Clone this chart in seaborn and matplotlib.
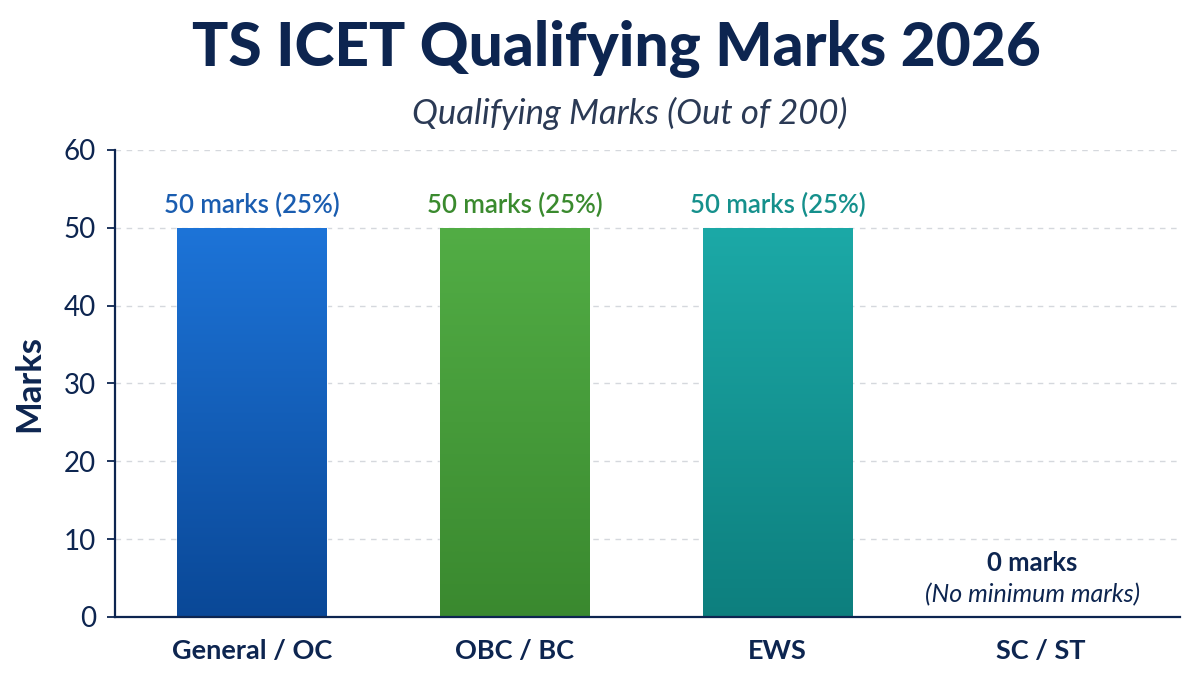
import numpy as np
import pandas as pd
import matplotlib
matplotlib.use("Agg")
import matplotlib.pyplot as plt
import seaborn as sns
from matplotlib.colors import LinearSegmentedColormap

categories = ["General / OC", "OBC / BC", "EWS", "SC / ST"]
marks = [50, 50, 50, 0]
bar_labels = ["50 marks (25%)", "50 marks (25%)", "50 marks (25%)", "0 marks"]
yticks = [0, 10, 20, 30, 40, 50, 60]

top_colors = ["#1d74d8", "#52ad45", "#1ca9a7", "#ffffff"]
bot_colors = ["#0a4897", "#3a892f", "#0d7f7e", "#ffffff"]
label_colors = ["#1a5db0", "#3a8a2e", "#15908c", "#0d2550"]
navy = "#0d2550"

sns.set_theme(style="white")
plt.rcParams['font.family'] = ['Lato', 'DejaVu Sans']

df = pd.DataFrame({"cat": categories, "marks": marks})

fig = plt.figure(figsize=(12, 6.75), dpi=100)
ax = fig.add_axes([0.096, 0.086, 0.887, 0.692])
sns.barplot(data=df, x="cat", y="marks", ax=ax, width=0.57,
            palette=top_colors, hue="cat", legend=False, saturation=1)

ax.set_ylim(0, 60)
ax.set_xlim(-0.52, 3.53)
ax.set_yticks(yticks)
ax.yaxis.grid(True, linestyle=(0, (4, 4)), color="#d5d8dd", linewidth=1)
ax.set_axisbelow(True)

# gradient fill
for i, p in enumerate(ax.patches):
    h = p.get_height()
    if h <= 0:
        continue
    x0, w = p.get_x(), p.get_width()
    cmap = LinearSegmentedColormap.from_list("g", [bot_colors[i], top_colors[i]])
    grad = np.linspace(0, 1, 256).reshape(-1, 1)
    im = ax.imshow(grad, cmap=cmap, aspect="auto", origin="lower",
                   extent=[x0, x0 + w, 0, h], zorder=p.get_zorder() + 0.1)
    im.set_clip_path(p)
ax.set_xlim(-0.52, 3.53)
ax.set_ylim(0, 60)

for i, (v, lab) in enumerate(zip(marks, bar_labels)):
    if v > 0:
        ax.text(i, v + 1.3, lab, ha="center", va="bottom", fontsize=18.5,
                color=label_colors[i], fontweight="semibold")
    else:
        ax.text(i - 0.03, 6.9, lab, ha="center", va="center", fontsize=18.5,
                color=navy, fontweight="bold")
        ax.text(i - 0.03, 2.8, "(No minimum marks)", ha="center", va="center",
                fontsize=18, color=navy, style="italic")

for s in ["top", "right"]:
    ax.spines[s].set_visible(False)
for s in ["left", "bottom"]:
    ax.spines[s].set_color(navy)
    ax.spines[s].set_linewidth(1.6)

ax.tick_params(axis="y", which="both", left=True, length=6, width=1.3,
               color=navy, labelsize=20, labelcolor=navy, pad=8)
ax.tick_params(axis="x", bottom=False, labelsize=19.5, labelcolor=navy, pad=10)
for t in ax.get_xticklabels():
    t.set_fontweight("bold")
ax.set_xlabel("")
ax.set_ylabel("Marks", fontsize=25, fontweight="bold", color=navy, labelpad=13)

fig.text(0.514, 0.928, "TS ICET Qualifying Marks 2026", ha="center", va="center",
         fontsize=43.5, fontweight="black", color=navy)
fig.text(0.525, 0.832, "Qualifying Marks (Out of 200)", ha="center", va="center",
         fontsize=25, style="italic", color="#2b3a55")

fig.savefig("out.png", dpi=100, facecolor="white")
